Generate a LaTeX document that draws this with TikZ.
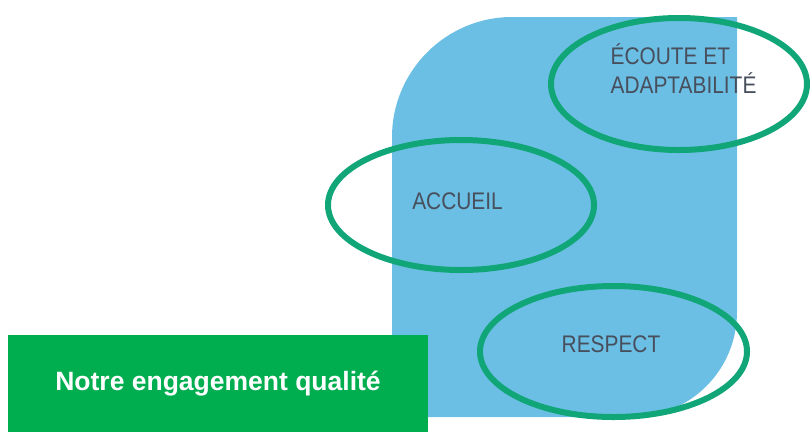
\documentclass[tikz,border=0pt]{standalone}
\usepackage{fontspec}
\setmainfont{Liberation Sans}
\newfontfamily\etroite[FakeStretch=0.87]{Liberation Sans}
\usetikzlibrary{shapes.geometric}
\definecolor{fond}{HTML}{6CBFE4}
\definecolor{anneau}{HTML}{11A677}
\definecolor{bandeau}{HTML}{00AE50}
\definecolor{texte}{HTML}{474E5C}
\tikzset{
  ring/.style={ellipse, draw=anneau, line width=6pt, inner sep=0pt},
  mot/.style={text=texte, font=\etroite\fontsize{24}{29}\selectfont, inner sep=0pt, align=left},
}
\begin{document}
\begin{tikzpicture}[x=1pt, y=-1pt]
\useasboundingbox (0,0) rectangle (810,432);
% forme bleue
\fill [fond] (392,137) .. controls (392,71) and (446,17) .. (512,17) -- (737,17) -- (737,312)
  .. controls (737,370) and (690,417) .. (632,417) -- (392,417) -- cycle;
\node [ring, minimum width=256pt, minimum height=132pt] (e1) at (679,84) {};
\node [ring, minimum width=266pt, minimum height=130pt] (e2) at (461,205) {};
\node [ring, minimum width=267pt, minimum height=131pt] (e3) at (613.5,351.5) {};
\node [mot] (ecoute) at (683.5,68.5) {ÉCOUTE ET\\ADAPTABILITÉ};
\node [mot] (accueil) at (457.5,201.5) {ACCUEIL};
\node [mot] (respect) at (611,344) {RESPECT};
%\node [draw] (titre) ...
\node [fill=bandeau, text=white, font=\bfseries\fontsize{26.5}{30}\selectfont,
  minimum width=420pt, minimum height=97pt, inner sep=0pt] (titre) at (218,383.5) {Notre engagement qualité};
\end{tikzpicture}
\end{document}
